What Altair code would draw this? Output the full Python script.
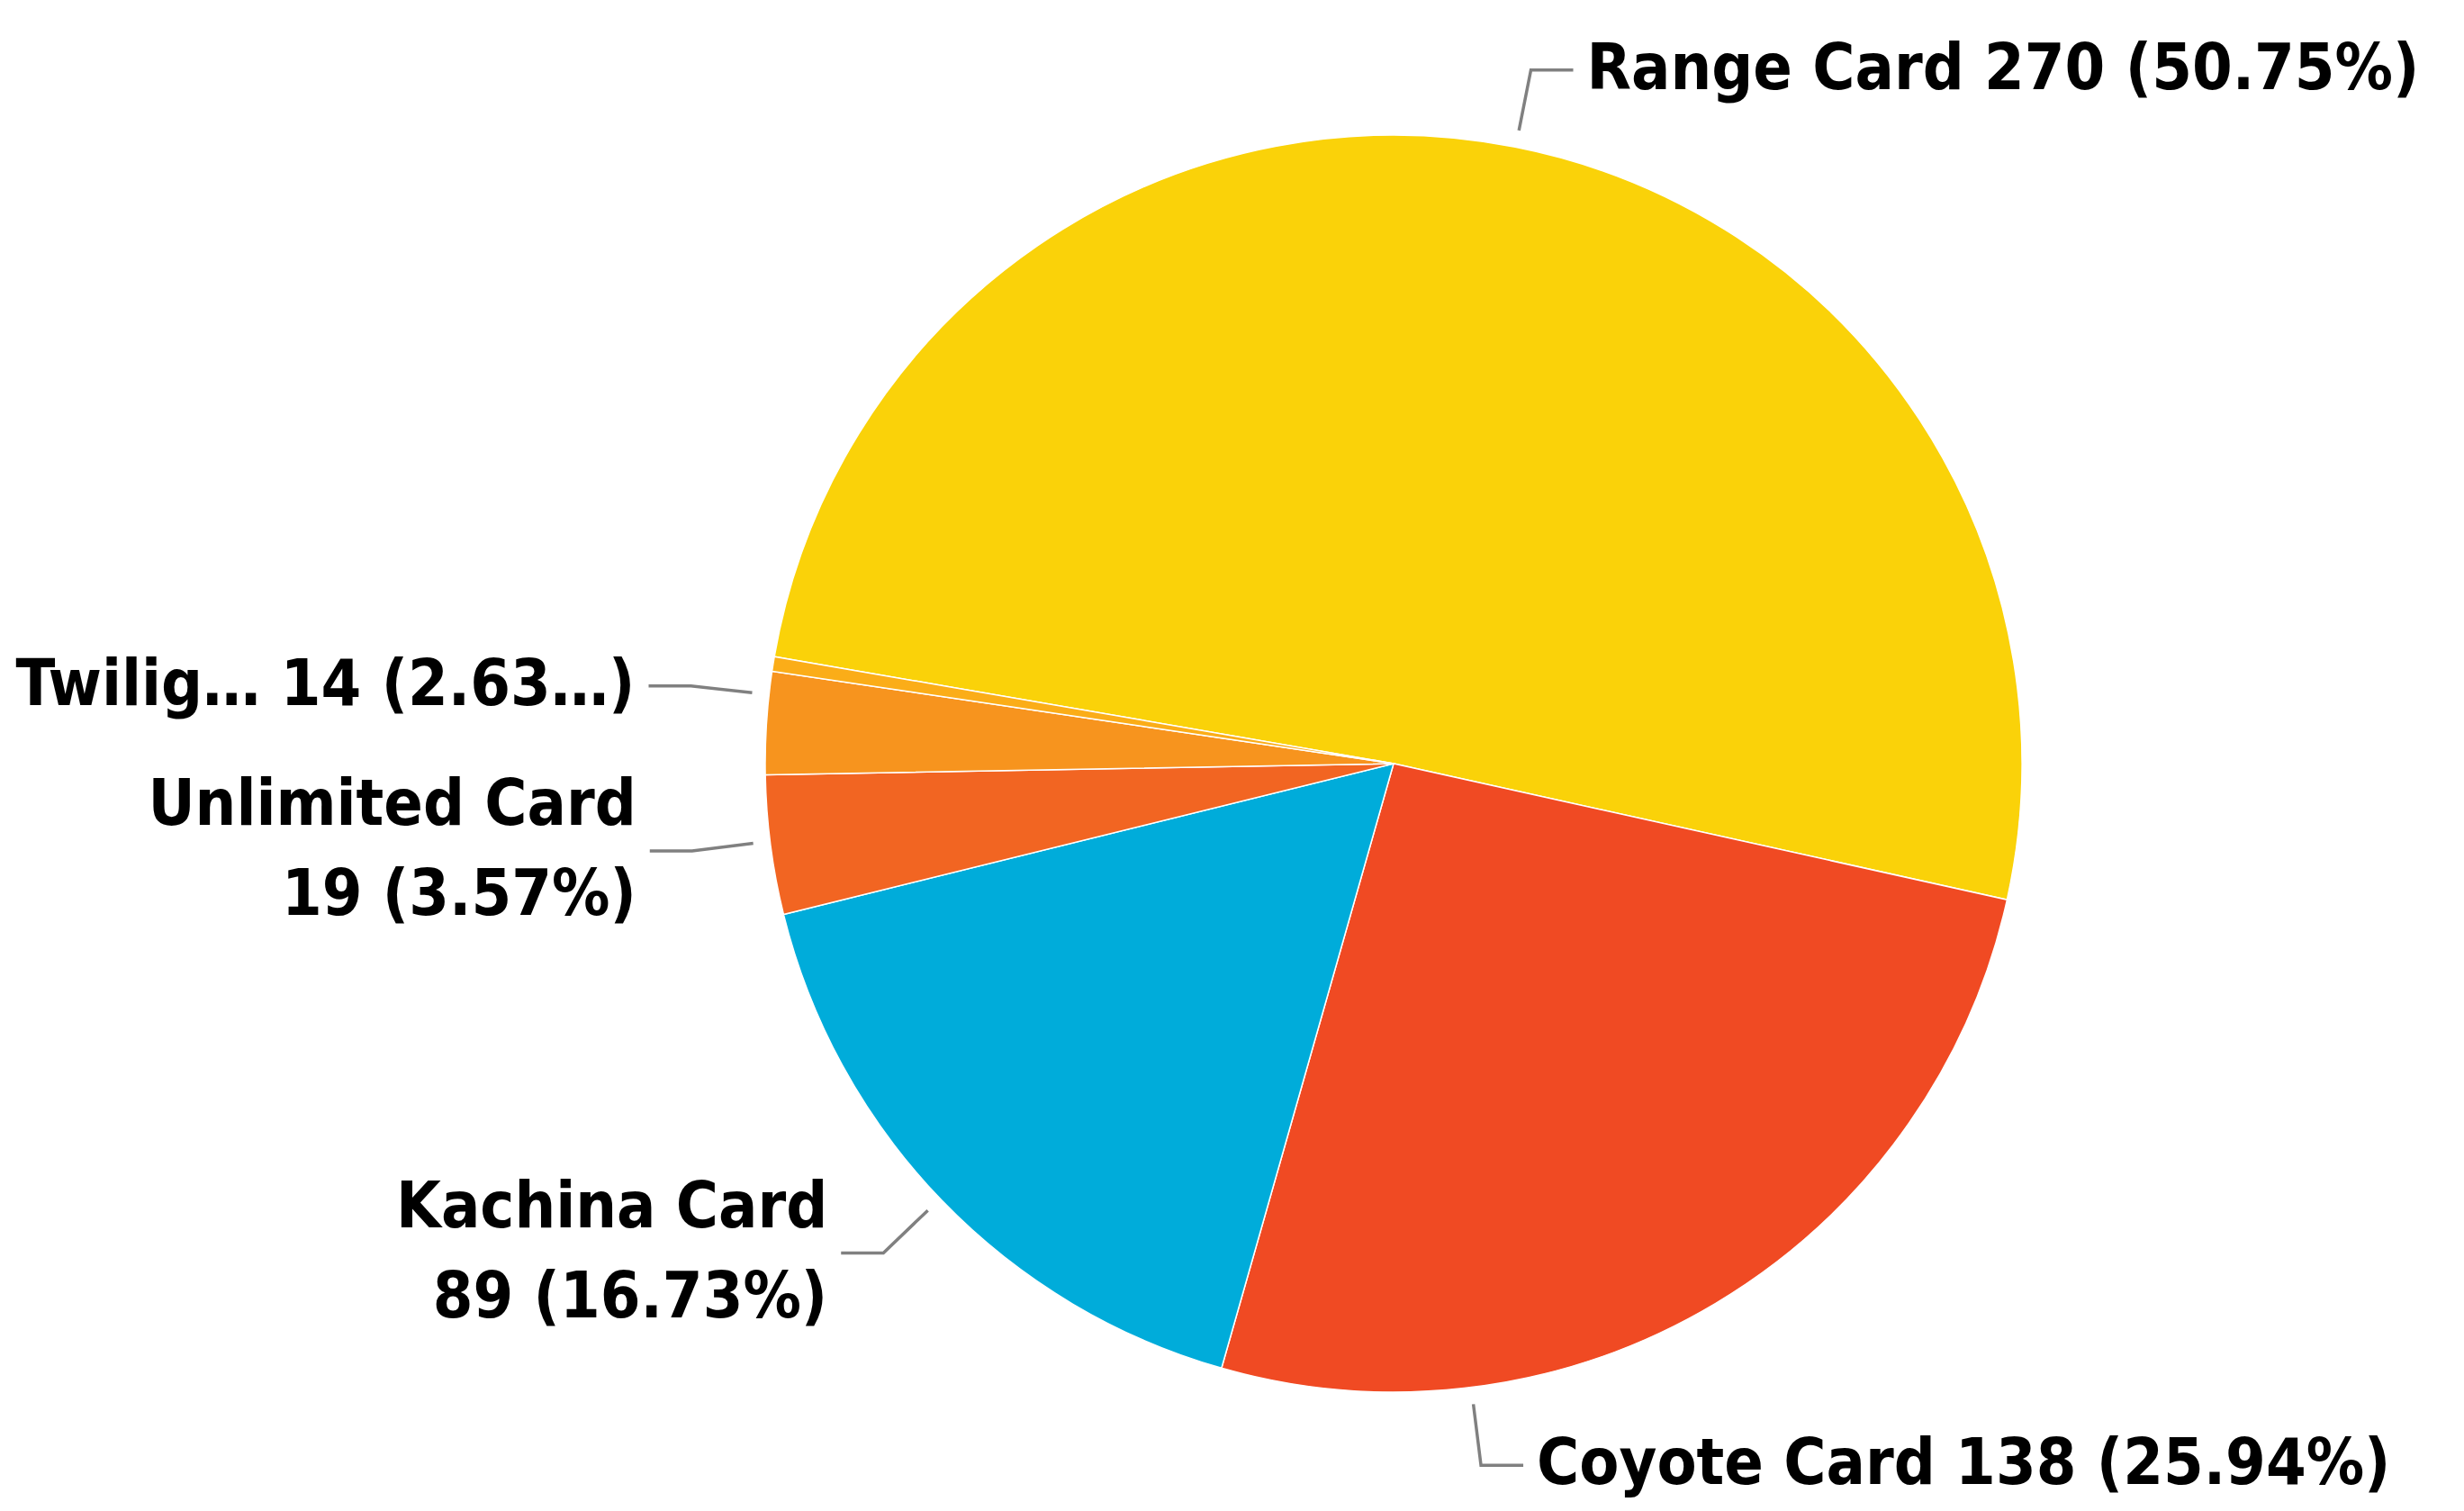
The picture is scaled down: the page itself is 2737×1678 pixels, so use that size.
import math
import altair as alt
import pandas as pd

# ---- data ----
categories = ["Range Card", "Coyote Card", "Kachina Card", "Unlimited Card", "Twilight Card", "Other"]
values = [270, 138, 89, 19, 14, 2]
colors = ["#FAD209", "#F04A23", "#00ACDA", "#F26522", "#F7941E", "#FBAD18"]
label_texts = ["Range Card 270 (50.75%)", "Coyote Card 138 (25.94%)",
               "Kachina Card\n89 (16.73%)", "Unlimited Card\n19 (3.57%)",
               "Twilig\u2026 14 (2.63\u2026)", ""]
label_angles_deg = [11.2, 172.9, 226.2, 262.9, 276.3, None]

# ---- layout ----
W, H = 2721, 1662
CX, CY, R = 1540, 840, 698
START_DEG = 279.8
FONT = "DejaVu Sans Condensed"
FS, LH = 71.5, 100

df = pd.DataFrame({"category": categories, "value": values, "idx": list(range(len(values)))})

xs = alt.Scale(domain=[0, W], range=[0, W], zero=False, nice=False)
ys = alt.Scale(domain=[0, H], range=[0, H], zero=False, nice=False)

a0 = math.radians(START_DEG)
pie = alt.Chart(df).mark_arc(radius=R, stroke="white", strokeWidth=1.5, x=CX, y=CY).encode(
    theta=alt.Theta("value:Q", stack=True, scale=alt.Scale(range=[a0, a0 + 2 * math.pi])),
    color=alt.Color("category:N", scale=alt.Scale(domain=categories, range=colors), legend=None),
    order=alt.Order("idx:Q"),
)

line_rows, text_rows = [], []
for i, (cat, txt, ang) in enumerate(zip(categories, label_texts, label_angles_deg)):
    if ang is None:
        continue
    a = math.radians(ang)
    sx, sy = math.sin(a), -math.cos(a)
    side = 1 if sx >= 0 else -1
    p0 = (CX + 1.027 * R * sx, CY + 1.027 * R * sy)
    p1 = (CX + 1.125 * R * sx, CY + 1.125 * R * sy)
    p2 = (p1[0] + side * 47, p1[1])
    for k, p in enumerate([p0, p1, p2]):
        line_rows.append({"category": cat, "k": k, "x": p[0], "y": p[1]})
    nlines = txt.count("\n") + 1
    text_rows.append({"category": cat, "text": txt, "x": p2[0] + side * 15,
                      "y": p2[1] - (nlines - 1) * LH / 2,
                      "side": "right" if side > 0 else "left"})

lines_df = pd.DataFrame(line_rows)
text_df = pd.DataFrame(text_rows)

lines = alt.Chart(lines_df).mark_line(color="#808080", strokeWidth=3.5).encode(
    x=alt.X("x:Q", scale=xs, axis=None),
    y=alt.Y("y:Q", scale=ys, axis=None),
    detail="category:N",
    order="k:Q",
)

def text_layer(side, align):
    return alt.Chart(text_df).transform_filter(alt.datum.side == side).mark_text(
        align=align, baseline="middle", font=FONT, fontWeight="bold", fontSize=FS,
        lineBreak="\n", lineHeight=LH, color="black",
    ).encode(
        x=alt.X("x:Q", scale=xs, axis=None),
        y=alt.Y("y:Q", scale=ys, axis=None),
        text="text:N",
    )

chart = alt.layer(pie, lines, text_layer("right", "left"), text_layer("left", "right")).properties(
    width=W, height=H, autosize=alt.AutoSizeParams(type="none"), padding=0,
).configure_view(stroke=None)

chart.save("out.html", embed_options={"renderer": "svg", "actions": False})
